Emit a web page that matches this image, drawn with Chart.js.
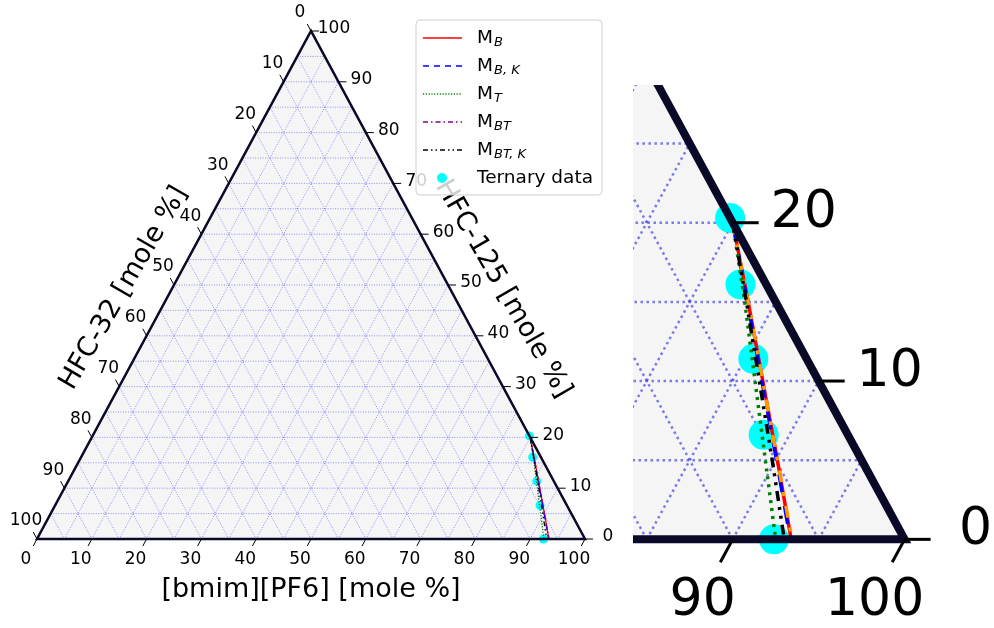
<!DOCTYPE html>
<html>
<head>
<meta charset="utf-8">
<script src="https://cdn.jsdelivr.net/npm/chart.js@4.4.1/dist/chart.umd.min.js"></script>
<style>
  html, body { margin: 0; padding: 0; background: #fff; }
  #wrap { position: relative; width: 994px; height: 628px; overflow: hidden; }
  #main { position: absolute; left: 0; top: 0; }
  #zoom { position: absolute; left: 633px; top: 85px; }
</style>
</head>
<body>
<div id="wrap">
  <canvas id="main" width="994" height="628"></canvas>
  <canvas id="zoom" width="361" height="543"></canvas>
</div>
<script>
const tickVals = [0, 10, 20, 30, 40, 50, 60, 70, 80, 90, 100];
const gridVals = [5, 10, 15, 20, 25, 30, 35, 40, 45, 50, 55, 60, 65, 70, 75, 80, 85, 90, 95];
const titleIL  = '[bmim][PF6] [mole %]';
const title32  = 'HFC-32 [mole %]';
const title125 = 'HFC-125 [mole %]';

// ternary data, mole % (HFC-32 = 100 - IL - HFC-125)
const expHFC125 = [20.3, 16.1, 11.4, 6.6, 0.0];
const expIL     = [79.7, 82.4, 85.5, 88.5, 92.4];

// model curves
const modelHFC125 = [20, 15, 10, 5, 0];
const ilMB   = [80.0, 83.4, 86.75, 90.1, 93.4];
const ilMBK  = [80.0, 83.35, 86.7, 90.05, 93.35];
const ilMT   = [80.0, 83.2, 86.3, 89.4, 92.5];
const ilMBT  = [80.0, 83.4, 86.75, 90.1, 93.45];
const ilMBTK = [80.0, 83.3, 86.55, 89.8, 93.0];

const modelSubs = ['B', 'B, K', 'T', 'BT', 'BT, K'];
const FONT = "'DejaVu Sans', sans-serif";

// x = IL + HFC-125/2, y = HFC-125
const tern = (il, h) => ({ x: il + h / 2, y: h });
const series = (ils, hs) => ils.map((v, i) => tern(v, hs[i]));

function makeDatasets(s) {
  const line = (label, sub, data, color, dash, order) => ({
    label, sub, data, order, showLine: true, tension: 0, clip: false,
    borderColor: color, backgroundColor: color, borderWidth: s.lw, borderDash: dash,
    pointRadius: 0
  });
  return [
    line('M_B',    modelSubs[0], series(ilMB, modelHFC125),   '#ff0000', [], 5),
    line('M_B,K',  modelSubs[1], series(ilMBK, modelHFC125),  '#0000ff', s.dashed, 4),
    line('M_T',    modelSubs[2], series(ilMT, modelHFC125),   '#008000', s.dotted, 3),
    line('M_BT',   modelSubs[3], series(ilMBT, modelHFC125),  s.btColor, s.dashdot, 2),
    line('M_BT,K', modelSubs[4], series(ilMBTK, modelHFC125), '#000000', s.dashdotdot, 1),
    {
      label: 'Ternary data', data: series(expIL, expHFC125), order: 10, clip: false,
      pointRadius: s.markerR, pointBackgroundColor: '#00ffff', pointBorderWidth: 0,
      borderColor: '#00ffff', backgroundColor: '#00ffff', showLine: false
    }
  ];
}

function pixFn(chart) {
  const xs = chart.scales.x, ys = chart.scales.y;
  return (il, h) => [xs.getPixelForValue(il + h / 2), ys.getPixelForValue(h)];
}

const ternaryPlugin = {
  id: 'ternary',
  beforeDatasetsDraw(chart, args, o) {
    const ctx = chart.ctx, P = pixFn(chart);
    ctx.save();
    ctx.beginPath();
    ctx.moveTo(...P(0, 0)); ctx.lineTo(...P(100, 0)); ctx.lineTo(...P(0, 100)); ctx.closePath();
    ctx.fillStyle = '#f5f5f5';
    ctx.fill();
    ctx.clip();
    ctx.strokeStyle = o.gridColor;
    ctx.lineWidth = o.gridWidth;
    ctx.setLineDash([o.gridDash, o.gridGap]);
    gridVals.forEach(g => {
      const segs = [
        [P(0, g), P(100 - g, g)],        // HFC-125 const
        [P(g, 0), P(g, 100 - g)],        // IL const
        [P(100 - g, 0), P(0, 100 - g)]   // HFC-32 const
      ];
      segs.forEach(([a, b]) => { ctx.beginPath(); ctx.moveTo(...a); ctx.lineTo(...b); ctx.stroke(); });
    });
    ctx.restore();
  },
  afterDatasetsDraw(chart, args, o) {
    const ctx = chart.ctx, P = pixFn(chart);
    const A = P(0, 0), B = P(100, 0), C = P(0, 100);
    ctx.save();
    ctx.strokeStyle = '#0a0a28';
    ctx.lineWidth = o.edgeWidth;
    ctx.lineJoin = 'miter';
    ctx.beginPath();
    ctx.moveTo(...A); ctx.lineTo(...B); ctx.lineTo(...C); ctx.closePath();
    ctx.stroke();

    const unit = (p, q) => { const dx = q[0] - p[0], dy = q[1] - p[1], l = Math.hypot(dx, dy); return [dx / l, dy / l]; };
    const dBot = unit(C, A);   // down-left, along IL = const
    const dLeft = unit(B, C);  // up-left, along HFC-32 = const
    ctx.lineWidth = o.tickWidth;
    ctx.strokeStyle = '#000';
    ctx.fillStyle = '#000';
    ctx.font = o.tickFont + 'px ' + FONT;
    ctx.textAlign = 'center';
    ctx.textBaseline = 'middle';
    const L = o.tickLen;
    tickVals.forEach(t => {
      let e = P(t, 0);
      ctx.beginPath(); ctx.moveTo(...e); ctx.lineTo(e[0] + dBot[0] * L, e[1] + dBot[1] * L); ctx.stroke();
      ctx.fillText(String(t), e[0] + o.botOff[0], e[1] + o.botOff[1]);
      e = P(100 - t, t);
      ctx.beginPath(); ctx.moveTo(...e); ctx.lineTo(e[0] + L, e[1]); ctx.stroke();
      ctx.fillText(String(t), e[0] + o.rightOff[0], e[1] + o.rightOff[1]);
      e = P(0, 100 - t);
      ctx.beginPath(); ctx.moveTo(...e); ctx.lineTo(e[0] + dLeft[0] * L, e[1] + dLeft[1] * L); ctx.stroke();
      ctx.fillText(String(t), e[0] + o.leftOff[0], e[1] + o.leftOff[1]);
    });

    if (o.titles) {
      ctx.font = o.titleFont + 'px ' + FONT;
      ctx.fillText(titleIL, 311, 590);
      ctx.save(); ctx.translate(124, 288); ctx.rotate(-Math.PI / 3); ctx.fillText(title32, 0, 0); ctx.restore();
      ctx.save(); ctx.translate(503, 289); ctx.rotate(Math.PI / 3); ctx.fillText(title125, 0, 0); ctx.restore();
    }
    ctx.restore();
  },
  afterDraw(chart, args, o) {
    if (!o.legend) return;
    const ctx = chart.ctx;
    const x0 = 416, y0 = 20, w = 186, h = 175;
    ctx.save();
    ctx.beginPath();
    ctx.roundRect(x0, y0, w, h, 4);
    ctx.fillStyle = 'rgba(255,255,255,0.8)';
    ctx.fill();
    ctx.strokeStyle = '#d0d0d0';
    ctx.lineWidth = 1;
    ctx.stroke();
    chart.data.datasets.forEach((ds, i) => {
      const y = 38 + i * 28;
      ctx.fillStyle = '#000';
      ctx.textAlign = 'left';
      ctx.textBaseline = 'middle';
      ctx.font = '18.5px ' + FONT;
      if (ds.showLine) {
        ctx.strokeStyle = ds.borderColor;
        ctx.lineWidth = 1.5;
        ctx.setLineDash(ds.borderDash);
        ctx.beginPath(); ctx.moveTo(423, y); ctx.lineTo(462, y); ctx.stroke();
        ctx.setLineDash([]);
        ctx.fillText('M', 477, y);
        const mw = ctx.measureText('M').width;
        ctx.font = 'italic 13px ' + FONT;
        ctx.fillText(ds.sub, 477 + mw + 1, y + 5);
      } else {
        ctx.fillText(ds.label, 477, y);
        ctx.fillStyle = '#00ffff';
        ctx.beginPath(); ctx.arc(442, y, 5, 0, Math.PI * 2); ctx.fill();
      }
    });
    ctx.restore();
  }
};

const baseOpts = (padding, xr, yr, tern) => ({
  responsive: false,
  animation: false,
  devicePixelRatio: 1,
  layout: { padding, autoPadding: false },
  scales: {
    x: { type: 'linear', min: xr[0], max: xr[1], display: false },
    y: { type: 'linear', min: yr[0], max: yr[1], display: false }
  },
  plugins: { legend: { display: false }, tooltip: { enabled: false }, ternary: tern }
});

new Chart(document.getElementById('main'), {
  type: 'scatter',
  data: { datasets: makeDatasets({ lw: 1.3, markerR: 4.5, btColor: '#8b008b',
    dashed: [6, 5], dotted: [1.2, 1.6], dashdot: [5, 3, 1.5, 3], dashdotdot: [5, 3, 1.5, 3, 1.5, 3] }) },
  options: baseOpts({ left: 37, right: 409, top: 31, bottom: 89 }, [0, 100], [0, 100], {
    gridColor: 'rgba(30,30,255,0.6)', gridWidth: 0.8, gridDash: 1, gridGap: 1.5,
    edgeWidth: 2.5, tickWidth: 1, tickLen: 8, tickFont: 17,
    botOff: [-11, 21], rightOff: [23, -2], leftOff: [-11, -18],
    titles: true, titleFont: 27, legend: true
  }),
  plugins: [ternaryPlugin]
});

new Chart(document.getElementById('zoom'), {
  type: 'scatter',
  data: { datasets: makeDatasets({ lw: 3.5, markerR: 15, btColor: '#ff9900',
    dashed: [18, 14], dotted: [3, 5], dashdot: [12, 10, 4, 10], dashdotdot: [10, 6, 3, 6, 3, 6] }) },
  options: baseOpts(0, [84.2, 105.2], [-5.6, 28.7], {
    gridColor: 'rgba(70,70,230,0.7)', gridWidth: 2.5, gridDash: 2.5, gridGap: 3.5,
    edgeWidth: 8, tickWidth: 3, tickLen: 26, tickFont: 52,
    botOff: [-30, 62], rightOff: [71, -9], leftOff: [-34, -56],
    titles: false, legend: false
  }),
  plugins: [ternaryPlugin]
});
</script>
</body>
</html>
